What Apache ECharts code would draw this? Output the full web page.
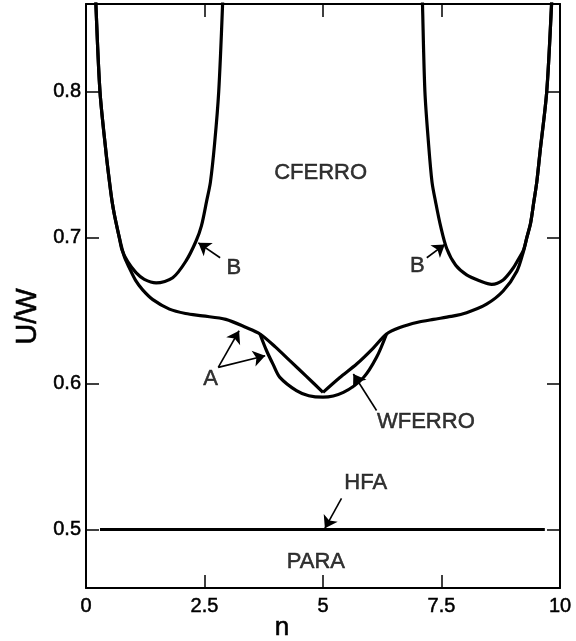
<!DOCTYPE html>
<html>
<head>
<meta charset="utf-8">
<script src="https://cdn.jsdelivr.net/npm/echarts@6/dist/echarts.min.js"></script>
<style>
html,body{margin:0;padding:0;background:#fff;}
#chart{width:576px;height:641px;}
</style>
</head>
<body>
<div id="chart"></div>
<script>
// Axis ticks
const nTicks = [0, 2.5, 5, 7.5, 10];
const uTicks = [0.5, 0.6, 0.7, 0.8];

// Curve A (left half, from top down to the cusp at n=5)
const nA1 = [0.19, 0.21, 0.295, 0.42, 0.496, 0.549, 0.597, 0.703, 0.808, 0.914, 1.05, 1.20, 1.41, 1.76, 2.10, 2.46, 2.95, 3.38, 3.67, 4.00, 4.30, 4.65, 5.00];
const uA1 = [0.88, 0.8585, 0.80, 0.759, 0.738, 0.725, 0.716, 0.700, 0.687, 0.6793, 0.6705, 0.664, 0.6575, 0.651, 0.648, 0.6464, 0.644, 0.6384, 0.634, 0.625, 0.6157, 0.605, 0.594];
// Curve A (right half, from the cusp up to the top)
const nA2 = [5.00, 5.35, 5.71, 6.05, 6.34, 6.62, 7.00, 7.33, 7.70, 8.03, 8.45, 8.80, 9.09, 9.23, 9.30, 9.38, 9.45, 9.51, 9.58, 9.72, 9.82, 9.845];
const uA2 = [0.594, 0.604, 0.6134, 0.624, 0.634, 0.6384, 0.642, 0.644, 0.646, 0.6486, 0.6544, 0.6634, 0.677, 0.6907, 0.700, 0.710, 0.725, 0.738, 0.759, 0.800, 0.8585, 0.88];
// Curve B (left loop)
const nB1 = [0.19, 0.21, 0.295, 0.42, 0.496, 0.549, 0.597, 0.703, 0.76, 0.88, 1.055, 1.23, 1.48, 1.83, 2.11, 2.32, 2.435, 2.545, 2.625, 2.715, 2.80, 2.88, 2.895];
const uB1 = [0.88, 0.8585, 0.80, 0.759, 0.738, 0.725, 0.716, 0.700, 0.6915, 0.6835, 0.676, 0.6714, 0.669, 0.6725, 0.684, 0.6975, 0.708, 0.725, 0.738, 0.765, 0.800, 0.8585, 0.88];
// Curve B (right loop)
const nB2 = [7.085, 7.10, 7.15, 7.225, 7.30, 7.375, 7.48, 7.61, 7.80, 8.03, 8.30, 8.56, 8.80, 9.01, 9.12, 9.23, 9.30, 9.38, 9.45, 9.51, 9.58, 9.72, 9.82, 9.845];
const uB2 = [0.88, 0.8585, 0.80, 0.765, 0.738, 0.7245, 0.708, 0.6925, 0.681, 0.6745, 0.6705, 0.668, 0.671, 0.679, 0.685, 0.6915, 0.700, 0.710, 0.725, 0.738, 0.759, 0.800, 0.8585, 0.88];
// WFERRO lower loop
const nW = [3.67, 3.81, 3.95, 4.09, 4.44, 4.70, 5.00, 5.43, 5.85, 6.13, 6.34];
const uW = [0.634, 0.6225, 0.613, 0.6043, 0.5952, 0.5917, 0.5907, 0.594, 0.604, 0.618, 0.634];
// HFA line
const nH = [0.295, 9.68];
const uH = [0.5, 0.5];

// Region / curve labels [n, U, text]
const labelN = [4.95, 3.12, 6.99, 2.63, 7.17, 5.90, 4.85];
const labelU = [0.7441, 0.6793, 0.6805, 0.6032, 0.5736, 0.5318, 0.4781];
const labelText = ['CFERRO', 'B', 'B', 'A', 'WFERRO', 'HFA', 'PARA'];

// Arrows: start (n,U) -> tip (n,U)
const arrowN0 = [2.83, 7.19, 2.79, 2.79, 6.13, 5.39];
const arrowU0 = [0.6862, 0.6862, 0.6111, 0.6111, 0.5816, 0.5214];
const arrowN1 = [2.37, 7.57, 3.23, 3.78, 5.64, 5.04];
const arrowU1 = [0.6964, 0.6953, 0.6362, 0.6191, 0.6066, 0.5009];

const pairs = (ns, us) => ns.map((n, i) => [n, us[i]]);
const FONT = '"Liberation Sans", Arial, Helvetica, sans-serif';

const chart = echarts.init(document.getElementById('chart'), null, {renderer: 'canvas'});

const curveStyle = {color: '#000', width: 3.2};
function curve(name, ns, us, extra) {
  return Object.assign({
    name: name,
    type: 'line',
    data: pairs(ns, us),
    smooth: 0.3,
    symbol: 'none',
    lineStyle: curveStyle,
    silent: true,
    clip: true,
    z: 3
  }, extra || {});
}

const arrowData = arrowN0.map((n, i) => [
  {coord: [n, arrowU0[i]]},
  {coord: [arrowN1[i], arrowU1[i]]}
]);

const axisLineStyle = {color: '#000', width: 2};
const tickStyle = {color: '#000', width: 1.5};
const txt = {color: '#000', fontFamily: FONT, textBorderColor: '#000', textBorderWidth: 0.5};

chart.setOption({
  animation: false,
  backgroundColor: '#fff',
  grid: {left: 86, right: 16, top: 4, bottom: 53, containLabel: false, outerBoundsMode: 'none'},
  xAxis: [
    {
      type: 'value', min: 0, max: 10, interval: 2.5, position: 'bottom',
      axisLine: {show: true, onZero: false, lineStyle: axisLineStyle},
      axisTick: {show: true, inside: true, length: 13, lineStyle: tickStyle},
      axisLabel: Object.assign({show: true, customValues: nTicks, fontSize: 20, margin: 8,
                  showMinLabel: true, showMaxLabel: true, formatter: v => String(v)}, txt),
      splitLine: {show: false}
    },
    {
      type: 'value', min: 0, max: 10, interval: 2.5, position: 'top',
      axisLine: {show: true, onZero: false, lineStyle: axisLineStyle},
      axisTick: {show: true, inside: true, length: 13, lineStyle: tickStyle},
      axisLabel: {show: false},
      splitLine: {show: false}
    }
  ],
  yAxis: [
    {
      type: 'value', min: 0.46, max: 0.86, position: 'left',
      axisLine: {show: true, onZero: false, lineStyle: axisLineStyle},
      axisTick: {show: true, inside: true, length: 13, customValues: uTicks, lineStyle: tickStyle},
      axisLabel: Object.assign({show: true, customValues: uTicks, fontSize: 20, margin: 5,
                  formatter: v => v.toFixed(1)}, txt),
      splitLine: {show: false}
    },
    {
      type: 'value', min: 0.46, max: 0.86, position: 'right',
      axisLine: {show: true, onZero: false, lineStyle: axisLineStyle},
      axisTick: {show: true, inside: true, length: 13, customValues: uTicks, lineStyle: tickStyle},
      axisLabel: {show: false},
      splitLine: {show: false}
    }
  ],
  series: [
    curve('A left', nA1, uA1),
    curve('A right', nA2, uA2),
    curve('B left', nB1, uB1),
    curve('B right', nB2, uB2),
    curve('WFERRO', nW, uW),
    curve('HFA', nH, uH, {smooth: false, lineStyle: {color: '#000', width: 3},
      markLine: {
        silent: true,
        animation: false,
        symbol: ['none', 'arrow'],
        symbolSize: 12,
        label: {show: false},
        lineStyle: {color: '#000', width: 1.6, type: 'solid'},
        emphasis: {disabled: true},
        data: arrowData
      }
    }),
    {
      name: 'labels',
      type: 'scatter',
      silent: true,
      symbol: 'circle',
      symbolSize: 1,
      itemStyle: {color: 'transparent'},
      data: labelN.map((n, i) => ({value: [n, labelU[i]], name: labelText[i]})),
      label: Object.assign({
        show: true, position: 'inside', formatter: p => p.name, fontSize: 22
      }, txt),
      z: 5
    }
  ],
  graphic: [
    {type: 'text', x: 27.5, y: 316.5, rotation: Math.PI / 2,
     style: {text: 'U/W', font: '29px ' + FONT, fill: '#000', stroke: '#000', lineWidth: 0.6,
             textAlign: 'center', textVerticalAlign: 'middle'}},
    {type: 'text', x: 282, y: 628,
     style: {text: 'n', font: '26px ' + FONT, fill: '#000', stroke: '#000', lineWidth: 0.6,
             textAlign: 'center', textVerticalAlign: 'middle'}}
  ]
});
</script>
</body>
</html>
